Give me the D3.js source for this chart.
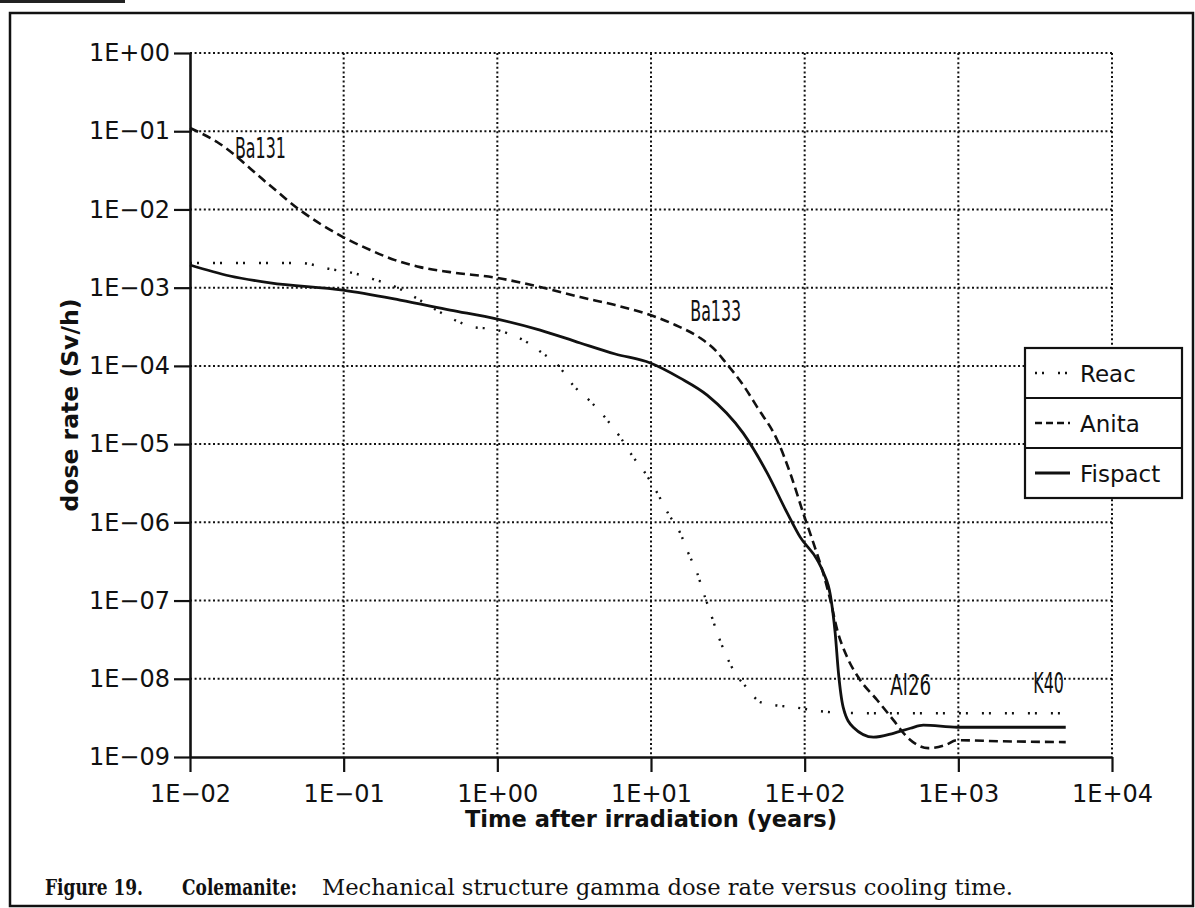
<!DOCTYPE html>
<html>
<head>
<meta charset="utf-8">
<script src="https://cdn.jsdelivr.net/npm/d3@7"></script>
<style>
  body { margin: 0; background: #fff; }
  svg { display: block; }
</style>
</head>
<body>
<svg id="chart" width="1195" height="908"></svg>
<script>
/**
 * Values: time after irradiation (years), dose rate (Sv/h)
 */
var xTicks = [1e-2, 1e-1, 1e0, 1e1, 1e2, 1e3, 1e4];
var xTickLabels = ["1E\u221202", "1E\u221201", "1E+00", "1E+01", "1E+02", "1E+03", "1E+04"];
var yTicks = [1e0, 1e-1, 1e-2, 1e-3, 1e-4, 1e-5, 1e-6, 1e-7, 1e-8, 1e-9];
var yTickLabels = ["1E+00", "1E\u221201", "1E\u221202", "1E\u221203", "1E\u221204",
  "1E\u221205", "1E\u221206", "1E\u221207", "1E\u221208", "1E\u221209"];

var reac = [
  [0.01, 2.07e-3], [0.052, 2.07e-3], [0.0815, 1.73e-3], [0.115, 1.54e-3],
  [0.155, 1.29e-3], [0.226, 9.9e-4], [0.305, 7.14e-4], [0.412, 5.02e-4],
  [0.547, 3.74e-4], [0.695, 3.13e-4], [0.938, 2.96e-4], [1.16, 2.62e-4],
  [1.56, 2.01e-4], [1.96, 1.46e-4], [2.45, 1.05e-4], [3.11, 5.68e-5],
  [4.14, 3.34e-5], [5.19, 2.03e-5], [6.30, 1.23e-5], [7.66, 6.82e-6],
  [8.89, 4.66e-6], [11.0, 2.36e-6], [12.9, 1.31e-6], [15.5, 7.28e-7],
  [17.5, 4.04e-7], [20.0, 2.24e-7], [21.9, 1.28e-7], [24.3, 7.11e-8],
  [27.0, 3.83e-8], [30.4, 2.12e-8], [35.3, 1.18e-8], [42.3, 7.59e-9],
  [51.4, 5.02e-9], [64.4, 4.59e-9], [84.3, 4.34e-9], [114, 3.96e-9],
  [147, 3.74e-9], [267, 3.63e-9], [5000, 3.63e-9]
];

var anita = [
  [0.01, 0.110], [0.015, 0.0728], [0.0317, 0.0218], [0.052, 9.8e-3],
  [0.099, 4.44e-3], [0.149, 3.03e-3], [0.216, 2.25e-3], [0.314, 1.83e-3],
  [0.493, 1.58e-3], [1.0, 1.33e-3], [1.90, 1.02e-3], [3.46, 7.59e-4],
  [5.85, 5.99e-4], [9.9, 4.46e-4], [14.4, 3.33e-4], [20.9, 2.27e-4],
  [26.2, 1.59e-4], [30.4, 1.12e-4], [39.8, 5.68e-5], [49.1, 2.97e-5],
  [66.4, 1.12e-5], [80.5, 4.26e-6], [97.9, 1.31e-6], [117, 4.68e-7],
  [132, 2.24e-7], [147, 1.01e-7], [163, 4.18e-8], [189, 1.89e-8],
  [230, 9.6e-9], [297, 5.32e-9], [378, 2.96e-9], [472, 1.74e-9],
  [638, 1.30e-9], [822, 1.42e-9], [984, 1.64e-9], [1875, 1.59e-9],
  [5000, 1.55e-9]
];

var fispact = [
  [0.01, 1.95e-3], [0.0182, 1.41e-3], [0.0332, 1.15e-3], [0.099, 9.31e-4],
  [0.233, 6.94e-4], [0.493, 5.18e-4], [1.0, 3.96e-4], [1.90, 2.87e-4],
  [3.46, 1.96e-4], [5.85, 1.42e-4], [9.9, 1.09e-4], [15.5, 6.98e-5],
  [23.2, 4.23e-5], [39.8, 1.38e-5], [57.1, 4.26e-6], [77.1, 1.31e-6],
  [93.5, 6.47e-7], [121, 3.29e-7], [132, 2.31e-7], [147, 1.17e-7],
  [158, 3.83e-8], [166, 1.18e-8], [178, 4.34e-9], [207, 2.40e-9],
  [280, 1.79e-9], [378, 2.01e-9], [488, 2.33e-9], [592, 2.55e-9],
  [984, 2.40e-9], [5000, 2.40e-9]
];

var seriesNames = ["Reac", "Anita", "Fispact"];

var nuclideNames = ["Ba131", "Ba133", "Al26", "K40"];
var nuclideTimes = [0.0196, 18.0, 361, 3076];
var nuclideDoses = [0.0454, 3.74e-4, 6.17e-9, 6.54e-9];

var captionParts = ["Figure 19.", "Colemanite:", "Mechanical structure gamma dose rate versus cooling time."];

/**
 * Styles
 */
var seriesDash = { Reac: "2,5,2,14", Anita: "9,5", Fispact: null };
var seriesWidth = { Reac: 2.4, Anita: 2.6, Fispact: 2.8 };
var tickFont = "'DejaVu Sans', sans-serif";

var svg = d3.select("#chart");

var xScale = d3.scaleLog().domain([1e-2, 1e4]).range([190, 1112]);
var yScale = d3.scaleLog().domain([1e-9, 1]).range([757, 53]);

// Page frame and the bit of the previous rule at the top
svg.append("line")
  .attr("x1", 0).attr("x2", 125).attr("y1", 1.5).attr("y2", 1.5)
  .attr("stroke", "#222").attr("stroke-width", 3);

svg.append("rect")
  .attr("x", 10).attr("y", 13)
  .attr("width", 1183).attr("height", 893)
  .attr("fill", "none")
  .attr("stroke", "#111")
  .attr("stroke-width", 2.5);

// Grid
var grid = svg.append("g")
  .attr("stroke", "#111")
  .attr("stroke-width", 2)
  .attr("stroke-dasharray", "2,2.6");

grid.selectAll(".vgrid")
  .data(xTicks.slice(1))
  .enter().append("line")
  .attr("class", "vgrid")
  .attr("x1", function(d) { return xScale(d); })
  .attr("x2", function(d) { return xScale(d); })
  .attr("y1", yScale(1)).attr("y2", yScale(1e-9));

grid.selectAll(".hgrid")
  .data(yTicks.slice(0, -1))
  .enter().append("line")
  .attr("class", "hgrid")
  .attr("y1", function(d) { return yScale(d); })
  .attr("y2", function(d) { return yScale(d); })
  .attr("x1", xScale(1e-2)).attr("x2", xScale(1e4));

// Axes
var xAxis = d3.axisBottom(xScale)
  .tickValues(xTicks)
  .tickFormat(function(d, i) { return xTickLabels[i]; })
  .tickSizeInner(15)
  .tickSizeOuter(0)
  .tickPadding(13);

var yAxis = d3.axisLeft(yScale)
  .tickValues(yTicks)
  .tickFormat(function(d, i) { return yTickLabels[i]; })
  .tickSizeInner(16)
  .tickSizeOuter(0)
  .tickPadding(4);

var gx = svg.append("g")
  .attr("transform", "translate(0," + yScale(1e-9) + ")")
  .call(xAxis);

var gy = svg.append("g")
  .attr("transform", "translate(" + xScale(1e-2) + ",0)")
  .call(yAxis);

[gx, gy].forEach(function(g) {
  g.attr("font-family", tickFont).attr("font-size", 24);
  g.select(".domain").attr("stroke", "#111").attr("stroke-width", 2.6);
  g.selectAll(".tick line").attr("stroke", "#111").attr("stroke-width", 2.2);
  g.selectAll(".tick text").attr("fill", "#111");
});

// Axis titles
svg.append("text")
  .attr("x", (xScale(1e-2) + xScale(1e4)) / 2)
  .attr("y", 827)
  .attr("text-anchor", "middle")
  .attr("font-family", tickFont)
  .attr("font-weight", "bold")
  .attr("font-size", 23)
  .attr("textLength", 372)
  .attr("lengthAdjust", "spacingAndGlyphs")
  .attr("fill", "#111")
  .text("Time after irradiation (years)");

svg.append("text")
  .attr("transform", "translate(78," + (yScale(1e-9) + yScale(1)) / 2 + ") rotate(-90)")
  .attr("text-anchor", "middle")
  .attr("font-family", tickFont)
  .attr("font-weight", "bold")
  .attr("font-size", 23)
  .attr("textLength", 213)
  .attr("lengthAdjust", "spacingAndGlyphs")
  .attr("fill", "#111")
  .text("dose rate (Sv/h)");

// Curves
var line = d3.line()
  .x(function(d) { return xScale(d[0]); })
  .y(function(d) { return yScale(d[1]); })
  .curve(d3.curveMonotoneX);

var seriesData = { Reac: reac, Anita: anita, Fispact: fispact };

svg.selectAll(".series")
  .data(seriesNames)
  .enter().append("path")
  .attr("class", "series")
  .attr("d", function(name) { return line(seriesData[name]); })
  .attr("fill", "none")
  .attr("stroke", "#111")
  .attr("stroke-width", function(name) { return seriesWidth[name]; })
  .attr("stroke-dasharray", function(name) { return seriesDash[name]; })
  .attr("stroke-linejoin", "round");

// Nuclide labels
svg.selectAll(".nuclide")
  .data(nuclideNames)
  .enter().append("text")
  .attr("class", "nuclide")
  .attr("x", function(d, i) { return xScale(nuclideTimes[i]); })
  .attr("y", function(d, i) { return yScale(nuclideDoses[i]); })
  .attr("font-family", "'DejaVu Sans Condensed', 'DejaVu Sans', sans-serif")
  .attr("font-size", 28)
  .attr("textLength", function(d) { return d.length * 10.2; })
  .attr("lengthAdjust", "spacingAndGlyphs")
  .attr("fill", "#111")
  .text(function(d) { return d; });

// Legend
var legend = svg.append("g").attr("transform", "translate(1025,348)");
var rowH = 50;

legend.append("rect")
  .attr("width", 157).attr("height", rowH * 3)
  .attr("fill", "#fff")
  .attr("stroke", "#111")
  .attr("stroke-width", 2.2);

var rows = legend.selectAll(".row")
  .data(seriesNames)
  .enter().append("g")
  .attr("class", "row")
  .attr("transform", function(d, i) { return "translate(0," + i * rowH + ")"; });

rows.filter(function(d, i) { return i > 0; })
  .append("line")
  .attr("x1", 0).attr("x2", 157)
  .attr("stroke", "#111").attr("stroke-width", 2.2);

rows.append("line")
  .attr("x1", 10).attr("x2", 45)
  .attr("y1", rowH / 2).attr("y2", rowH / 2)
  .attr("stroke", "#111")
  .attr("stroke-width", function(d) { return seriesWidth[d]; })
  .attr("stroke-dasharray", function(d) { return d === "Anita" ? "7,4" : seriesDash[d]; });

rows.append("text")
  .attr("x", 55)
  .attr("y", rowH / 2 + 9)
  .attr("font-family", tickFont)
  .attr("font-size", 23)
  .attr("fill", "#111")
  .text(function(d) { return d; });

// Caption
var captionX = [45, 182, 322];
var captionLen = [98, 115, 691];
svg.selectAll(".caption")
  .data(captionParts)
  .enter().append("text")
  .attr("class", "caption")
  .attr("x", function(d, i) { return captionX[i]; })
  .attr("y", 895)
  .attr("font-family", "'DejaVu Serif', serif")
  .attr("font-weight", function(d, i) { return i < 2 ? "bold" : "normal"; })
  .attr("font-size", 23)
  .attr("textLength", function(d, i) { return captionLen[i]; })
  .attr("lengthAdjust", "spacingAndGlyphs")
  .attr("fill", "#111")
  .text(function(d) { return d; });
</script>
</body>
</html>
